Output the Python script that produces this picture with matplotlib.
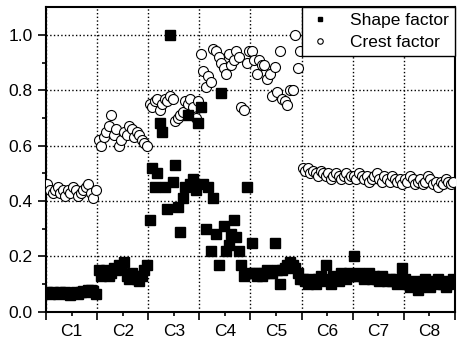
import numpy as np
import matplotlib.pyplot as plt

plt.rcParams['font.family'] = ['Liberation Sans', 'DejaVu Sans']

# condition labels, 20 samples per condition
categories = ['C1', 'C2', 'C3', 'C4', 'C5', 'C6', 'C7', 'C8']

shape_factor = [
    [0.07, 0.065, 0.07, 0.068, 0.065, 0.07, 0.068, 0.07, 0.065, 0.062,
     0.068, 0.07, 0.065, 0.07, 0.075, 0.07, 0.078, 0.08, 0.075, 0.065],
    [0.15, 0.13, 0.14, 0.15, 0.13, 0.14, 0.16, 0.15, 0.17, 0.16,
     0.18, 0.13, 0.12, 0.14, 0.13, 0.12, 0.11, 0.13, 0.15, 0.17],
    [0.33, 0.52, 0.45, 0.50, 0.68, 0.65, 0.45, 0.37, 1.00, 0.47,
     0.53, 0.38, 0.29, 0.41, 0.45, 0.71, 0.46, 0.48, 0.44, 0.68],
    [0.74, 0.46, 0.30, 0.45, 0.22, 0.41, 0.28, 0.17, 0.79, 0.31,
     0.22, 0.24, 0.28, 0.33, 0.27, 0.22, 0.17, 0.13, 0.45, 0.14],
    [0.25, 0.14, 0.13, 0.14, 0.13, 0.14, 0.15, 0.14, 0.14, 0.25,
     0.15, 0.10, 0.15, 0.16, 0.17, 0.18, 0.17, 0.16, 0.14, 0.12],
    [0.12, 0.11, 0.10, 0.12, 0.11, 0.10, 0.12, 0.13, 0.11, 0.17,
     0.12, 0.10, 0.13, 0.12, 0.11, 0.14, 0.13, 0.12, 0.14, 0.13],
    [0.20, 0.13, 0.14, 0.13, 0.12, 0.13, 0.14, 0.12, 0.13, 0.12,
     0.11, 0.13, 0.12, 0.11, 0.12, 0.11, 0.12, 0.10, 0.11, 0.16],
    [0.12, 0.10, 0.09, 0.11, 0.10, 0.08, 0.09, 0.11, 0.12, 0.10,
     0.09, 0.11, 0.10, 0.12, 0.11, 0.10, 0.09, 0.10, 0.11, 0.12],
]

crest_factor = [
    [0.46, 0.44, 0.43, 0.44, 0.45, 0.43, 0.44, 0.42, 0.44, 0.43,
     0.45, 0.44, 0.42, 0.43, 0.44, 0.45, 0.46, 0.43, 0.41, 0.44],
    [0.62, 0.60, 0.63, 0.65, 0.67, 0.71, 0.64, 0.66, 0.60, 0.62,
     0.65, 0.64, 0.67, 0.66, 0.63, 0.65, 0.64, 0.62, 0.61, 0.60],
    [0.75, 0.74, 0.76, 0.77, 0.73, 0.75, 0.77, 0.76, 0.78, 0.77,
     0.69, 0.70, 0.71, 0.72, 0.76, 0.75, 0.77, 0.74, 0.70, 0.76],
    [0.93, 0.87, 0.81, 0.85, 0.83, 0.95, 0.94, 0.92, 0.90, 0.88,
     0.86, 0.93, 0.89, 0.91, 0.94, 0.92, 0.74, 0.73, 0.90, 0.94],
    [0.94, 0.91, 0.86, 0.91, 0.89, 0.89, 0.84, 0.86, 0.78, 0.885,
     0.795, 0.94, 0.77, 0.76, 0.745, 0.80, 0.80, 1.00, 0.88, 0.94],
    [0.52, 0.51, 0.52, 0.50, 0.51, 0.50, 0.49, 0.51, 0.50, 0.49,
     0.50, 0.48, 0.49, 0.50, 0.49, 0.48, 0.49, 0.50, 0.48, 0.49],
    [0.49, 0.48, 0.50, 0.49, 0.48, 0.49, 0.47, 0.48, 0.49, 0.50,
     0.48, 0.47, 0.49, 0.48, 0.47, 0.49, 0.48, 0.47, 0.48, 0.46],
    [0.48, 0.47, 0.49, 0.48, 0.46, 0.47, 0.48, 0.46, 0.47, 0.49,
     0.48, 0.46, 0.47, 0.45, 0.47, 0.46, 0.48, 0.47, 0.46, 0.47],
]

n_per = len(shape_factor[0])
shape = np.concatenate(shape_factor)
crest = np.concatenate(crest_factor)
x = np.arange(len(shape)) + 0.5

fig = plt.figure(figsize=(4.57, 3.39), dpi=100)
ax = fig.add_axes([0.101, 0.080, 0.894, 0.899])

ax.plot(x, crest, 'o', ms=7.2, mfc='white', mec='black', mew=0.8,
        label='Crest factor', zorder=3)
ax.plot(x, shape, 's', ms=6.5, color='black', label='Shape factor', zorder=4)

n_cat = len(categories)
ax.set_xlim(0, n_cat * n_per)
ax.set_ylim(0, 1.1)

ax.set_xticks(np.arange(0, n_cat * n_per + 1, n_per))
ax.set_xticklabels([])
ax.set_xticks(np.arange(n_cat) * n_per + n_per / 2, minor=True)
ax.set_xticklabels(categories, minor=True)
ax.set_yticks(np.arange(0, 1.01, 0.2))
ax.set_yticks(np.arange(0.1, 1.1, 0.2), minor=True)
ax.yaxis.set_major_formatter(plt.FormatStrFormatter('%.1f'))

ax.tick_params(axis='both', which='major', direction='out', length=6,
               width=1.2, labelsize=12.5)
ax.tick_params(axis='both', which='minor', direction='out', length=3,
               width=1.2, labelsize=12.5)
ax.tick_params(axis='x', which='minor', pad=6)

ax.grid(True, which='major', linestyle=':', color='black', linewidth=1.0)
for s in ax.spines.values():
    s.set_linewidth(1.5)

h, l = ax.get_legend_handles_labels()
leg = ax.legend(h[::-1], l[::-1], loc='upper right', fontsize=12.5,
                fancybox=False, edgecolor='black', framealpha=1,
                borderaxespad=0, markerscale=0.55, handletextpad=1.0,
                handlelength=1.4, borderpad=0.35, labelspacing=0.35)
leg.get_frame().set_linewidth(1.0)

plt.savefig('out.png', dpi=100)
